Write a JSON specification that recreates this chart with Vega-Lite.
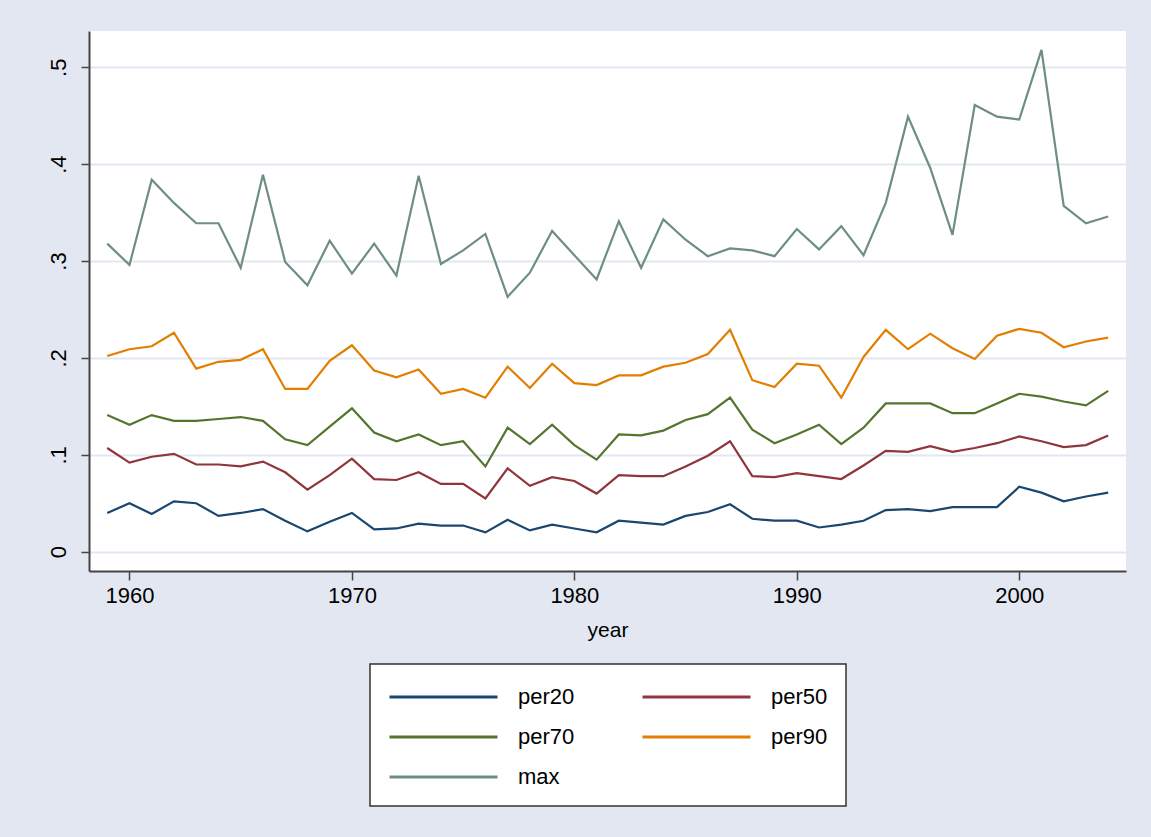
{
  "$schema": "https://vega.github.io/schema/vega-lite/v6.json",
  "width": 1037,
  "height": 540,
  "autosize": {"type": "none"},
  "padding": {"left": 89, "top": 31, "right": 25, "bottom": 266},
  "background": "#e2e7f1",
  "config": {"view": {"fill": "white", "stroke": null}, "font": "Liberation Sans", "legend": {"strokeWidth": 1.5}},
  "data": {"values": [
    {"year":1959,"series":"per20","value":0.040},{"year":1959,"series":"per50","value":0.107},{"year":1959,"series":"per70","value":0.141},{"year":1959,"series":"per90","value":0.202},{"year":1959,"series":"max","value":0.318},
    {"year":1960,"series":"per20","value":0.050},{"year":1960,"series":"per50","value":0.092},{"year":1960,"series":"per70","value":0.131},{"year":1960,"series":"per90","value":0.209},{"year":1960,"series":"max","value":0.296},
    {"year":1961,"series":"per20","value":0.039},{"year":1961,"series":"per50","value":0.098},{"year":1961,"series":"per70","value":0.141},{"year":1961,"series":"per90","value":0.212},{"year":1961,"series":"max","value":0.384},
    {"year":1962,"series":"per20","value":0.052},{"year":1962,"series":"per50","value":0.101},{"year":1962,"series":"per70","value":0.135},{"year":1962,"series":"per90","value":0.226},{"year":1962,"series":"max","value":0.360},
    {"year":1963,"series":"per20","value":0.050},{"year":1963,"series":"per50","value":0.090},{"year":1963,"series":"per70","value":0.135},{"year":1963,"series":"per90","value":0.189},{"year":1963,"series":"max","value":0.339},
    {"year":1964,"series":"per20","value":0.037},{"year":1964,"series":"per50","value":0.090},{"year":1964,"series":"per70","value":0.137},{"year":1964,"series":"per90","value":0.196},{"year":1964,"series":"max","value":0.339},
    {"year":1965,"series":"per20","value":0.040},{"year":1965,"series":"per50","value":0.088},{"year":1965,"series":"per70","value":0.139},{"year":1965,"series":"per90","value":0.198},{"year":1965,"series":"max","value":0.293},
    {"year":1966,"series":"per20","value":0.044},{"year":1966,"series":"per50","value":0.093},{"year":1966,"series":"per70","value":0.135},{"year":1966,"series":"per90","value":0.209},{"year":1966,"series":"max","value":0.389},
    {"year":1967,"series":"per20","value":0.032},{"year":1967,"series":"per50","value":0.082},{"year":1967,"series":"per70","value":0.116},{"year":1967,"series":"per90","value":0.168},{"year":1967,"series":"max","value":0.299},
    {"year":1968,"series":"per20","value":0.021},{"year":1968,"series":"per50","value":0.064},{"year":1968,"series":"per70","value":0.110},{"year":1968,"series":"per90","value":0.168},{"year":1968,"series":"max","value":0.275},
    {"year":1969,"series":"per20","value":0.031},{"year":1969,"series":"per50","value":0.079},{"year":1969,"series":"per70","value":0.129},{"year":1969,"series":"per90","value":0.197},{"year":1969,"series":"max","value":0.321},
    {"year":1970,"series":"per20","value":0.040},{"year":1970,"series":"per50","value":0.096},{"year":1970,"series":"per70","value":0.148},{"year":1970,"series":"per90","value":0.213},{"year":1970,"series":"max","value":0.287},
    {"year":1971,"series":"per20","value":0.023},{"year":1971,"series":"per50","value":0.075},{"year":1971,"series":"per70","value":0.123},{"year":1971,"series":"per90","value":0.187},{"year":1971,"series":"max","value":0.318},
    {"year":1972,"series":"per20","value":0.024},{"year":1972,"series":"per50","value":0.074},{"year":1972,"series":"per70","value":0.114},{"year":1972,"series":"per90","value":0.180},{"year":1972,"series":"max","value":0.285},
    {"year":1973,"series":"per20","value":0.029},{"year":1973,"series":"per50","value":0.082},{"year":1973,"series":"per70","value":0.121},{"year":1973,"series":"per90","value":0.188},{"year":1973,"series":"max","value":0.388},
    {"year":1974,"series":"per20","value":0.027},{"year":1974,"series":"per50","value":0.070},{"year":1974,"series":"per70","value":0.110},{"year":1974,"series":"per90","value":0.163},{"year":1974,"series":"max","value":0.297},
    {"year":1975,"series":"per20","value":0.027},{"year":1975,"series":"per50","value":0.070},{"year":1975,"series":"per70","value":0.114},{"year":1975,"series":"per90","value":0.168},{"year":1975,"series":"max","value":0.311},
    {"year":1976,"series":"per20","value":0.020},{"year":1976,"series":"per50","value":0.055},{"year":1976,"series":"per70","value":0.088},{"year":1976,"series":"per90","value":0.159},{"year":1976,"series":"max","value":0.328},
    {"year":1977,"series":"per20","value":0.033},{"year":1977,"series":"per50","value":0.086},{"year":1977,"series":"per70","value":0.128},{"year":1977,"series":"per90","value":0.191},{"year":1977,"series":"max","value":0.263},
    {"year":1978,"series":"per20","value":0.022},{"year":1978,"series":"per50","value":0.068},{"year":1978,"series":"per70","value":0.111},{"year":1978,"series":"per90","value":0.169},{"year":1978,"series":"max","value":0.288},
    {"year":1979,"series":"per20","value":0.028},{"year":1979,"series":"per50","value":0.077},{"year":1979,"series":"per70","value":0.131},{"year":1979,"series":"per90","value":0.194},{"year":1979,"series":"max","value":0.331},
    {"year":1980,"series":"per20","value":0.024},{"year":1980,"series":"per50","value":0.073},{"year":1980,"series":"per70","value":0.110},{"year":1980,"series":"per90","value":0.174},{"year":1980,"series":"max","value":0.306},
    {"year":1981,"series":"per20","value":0.020},{"year":1981,"series":"per50","value":0.060},{"year":1981,"series":"per70","value":0.095},{"year":1981,"series":"per90","value":0.172},{"year":1981,"series":"max","value":0.281},
    {"year":1982,"series":"per20","value":0.032},{"year":1982,"series":"per50","value":0.079},{"year":1982,"series":"per70","value":0.121},{"year":1982,"series":"per90","value":0.182},{"year":1982,"series":"max","value":0.341},
    {"year":1983,"series":"per20","value":0.030},{"year":1983,"series":"per50","value":0.078},{"year":1983,"series":"per70","value":0.120},{"year":1983,"series":"per90","value":0.182},{"year":1983,"series":"max","value":0.293},
    {"year":1984,"series":"per20","value":0.028},{"year":1984,"series":"per50","value":0.078},{"year":1984,"series":"per70","value":0.125},{"year":1984,"series":"per90","value":0.191},{"year":1984,"series":"max","value":0.343},
    {"year":1985,"series":"per20","value":0.037},{"year":1985,"series":"per50","value":0.088},{"year":1985,"series":"per70","value":0.136},{"year":1985,"series":"per90","value":0.195},{"year":1985,"series":"max","value":0.322},
    {"year":1986,"series":"per20","value":0.041},{"year":1986,"series":"per50","value":0.099},{"year":1986,"series":"per70","value":0.142},{"year":1986,"series":"per90","value":0.204},{"year":1986,"series":"max","value":0.305},
    {"year":1987,"series":"per20","value":0.049},{"year":1987,"series":"per50","value":0.114},{"year":1987,"series":"per70","value":0.159},{"year":1987,"series":"per90","value":0.229},{"year":1987,"series":"max","value":0.313},
    {"year":1988,"series":"per20","value":0.034},{"year":1988,"series":"per50","value":0.078},{"year":1988,"series":"per70","value":0.126},{"year":1988,"series":"per90","value":0.177},{"year":1988,"series":"max","value":0.311},
    {"year":1989,"series":"per20","value":0.032},{"year":1989,"series":"per50","value":0.077},{"year":1989,"series":"per70","value":0.112},{"year":1989,"series":"per90","value":0.170},{"year":1989,"series":"max","value":0.305},
    {"year":1990,"series":"per20","value":0.032},{"year":1990,"series":"per50","value":0.081},{"year":1990,"series":"per70","value":0.121},{"year":1990,"series":"per90","value":0.194},{"year":1990,"series":"max","value":0.333},
    {"year":1991,"series":"per20","value":0.025},{"year":1991,"series":"per50","value":0.078},{"year":1991,"series":"per70","value":0.131},{"year":1991,"series":"per90","value":0.192},{"year":1991,"series":"max","value":0.312},
    {"year":1992,"series":"per20","value":0.028},{"year":1992,"series":"per50","value":0.075},{"year":1992,"series":"per70","value":0.111},{"year":1992,"series":"per90","value":0.159},{"year":1992,"series":"max","value":0.336},
    {"year":1993,"series":"per20","value":0.032},{"year":1993,"series":"per50","value":0.089},{"year":1993,"series":"per70","value":0.128},{"year":1993,"series":"per90","value":0.201},{"year":1993,"series":"max","value":0.306},
    {"year":1994,"series":"per20","value":0.043},{"year":1994,"series":"per50","value":0.104},{"year":1994,"series":"per70","value":0.153},{"year":1994,"series":"per90","value":0.229},{"year":1994,"series":"max","value":0.360},
    {"year":1995,"series":"per20","value":0.044},{"year":1995,"series":"per50","value":0.103},{"year":1995,"series":"per70","value":0.153},{"year":1995,"series":"per90","value":0.209},{"year":1995,"series":"max","value":0.449},
    {"year":1996,"series":"per20","value":0.042},{"year":1996,"series":"per50","value":0.109},{"year":1996,"series":"per70","value":0.153},{"year":1996,"series":"per90","value":0.225},{"year":1996,"series":"max","value":0.396},
    {"year":1997,"series":"per20","value":0.046},{"year":1997,"series":"per50","value":0.103},{"year":1997,"series":"per70","value":0.143},{"year":1997,"series":"per90","value":0.210},{"year":1997,"series":"max","value":0.327},
    {"year":1998,"series":"per20","value":0.046},{"year":1998,"series":"per50","value":0.107},{"year":1998,"series":"per70","value":0.143},{"year":1998,"series":"per90","value":0.199},{"year":1998,"series":"max","value":0.461},
    {"year":1999,"series":"per20","value":0.046},{"year":1999,"series":"per50","value":0.112},{"year":1999,"series":"per70","value":0.153},{"year":1999,"series":"per90","value":0.223},{"year":1999,"series":"max","value":0.449},
    {"year":2000,"series":"per20","value":0.067},{"year":2000,"series":"per50","value":0.119},{"year":2000,"series":"per70","value":0.163},{"year":2000,"series":"per90","value":0.230},{"year":2000,"series":"max","value":0.446},
    {"year":2001,"series":"per20","value":0.061},{"year":2001,"series":"per50","value":0.114},{"year":2001,"series":"per70","value":0.160},{"year":2001,"series":"per90","value":0.226},{"year":2001,"series":"max","value":0.518},
    {"year":2002,"series":"per20","value":0.052},{"year":2002,"series":"per50","value":0.108},{"year":2002,"series":"per70","value":0.155},{"year":2002,"series":"per90","value":0.211},{"year":2002,"series":"max","value":0.357},
    {"year":2003,"series":"per20","value":0.057},{"year":2003,"series":"per50","value":0.110},{"year":2003,"series":"per70","value":0.151},{"year":2003,"series":"per90","value":0.217},{"year":2003,"series":"max","value":0.339},
    {"year":2004,"series":"per20","value":0.061},{"year":2004,"series":"per50","value":0.120},{"year":2004,"series":"per70","value":0.166},{"year":2004,"series":"per90","value":0.221},{"year":2004,"series":"max","value":0.346}
  ]},
  "mark": {"type": "line", "strokeWidth": 2.2},
  "encoding": {
    "x": {
      "field": "year", "type": "quantitative",
      "scale": {"domain": [1958.18, 2004.8], "nice": false, "zero": false},
      "axis": {
        "values": [1960, 1970, 1980, 1990, 2000], "format": "d", "grid": false,
        "title": "year", "titleFontSize": 21, "titleFontWeight": "normal", "titleColor": "black", "titlePadding": 13,
        "labelFontSize": 22, "labelColor": "black", "labelPadding": 5, "labelFlush": false,
        "tickSize": 9, "tickColor": "#444444", "tickWidth": 1.5,
        "domainColor": "#444444", "domainWidth": 2
      }
    },
    "y": {
      "field": "value", "type": "quantitative",
      "scale": {"domain": [-0.0199, 0.5374], "nice": false, "zero": false},
      "axis": {
        "values": [0, 0.1, 0.2, 0.3, 0.4, 0.5],
        "labelExpr": "datum.value == 0 ? '0' : replace(format(datum.value, '.1f'), '0.', '.')",
        "title": null, "labelAngle": -90, "labelAlign": "center", "labelBaseline": "bottom",
        "labelFontSize": 22, "labelColor": "black", "labelPadding": 11,
        "tickSize": 8, "tickColor": "#444444", "tickWidth": 1.5,
        "domainColor": "#444444", "domainWidth": 2,
        "grid": true, "gridColor": "#e1e7f1", "gridWidth": 2
      }
    },
    "color": {
      "field": "series", "type": "nominal",
      "scale": {"domain": ["per20", "per50", "per70", "per90", "max"], "range": ["#1a476f", "#90353b", "#55752f", "#e37e00", "#6e8e84"]},
      "legend": {
        "orient": "none", "legendX": 281, "legendY": 633, "columns": 2, "title": null,
        "values": ["per20", "per70", "max", "per50", "per90"],
        "symbolType": "M-1,0H7", "symbolSize": 729, "symbolStrokeWidth": 3,
        "labelFontSize": 22, "labelColor": "black", "labelOffset": 100,
        "columnPadding": 61, "rowPadding": 14, "padding": 18,
        "fillColor": "white", "strokeColor": "#333333"
      }
    }
  }
}
